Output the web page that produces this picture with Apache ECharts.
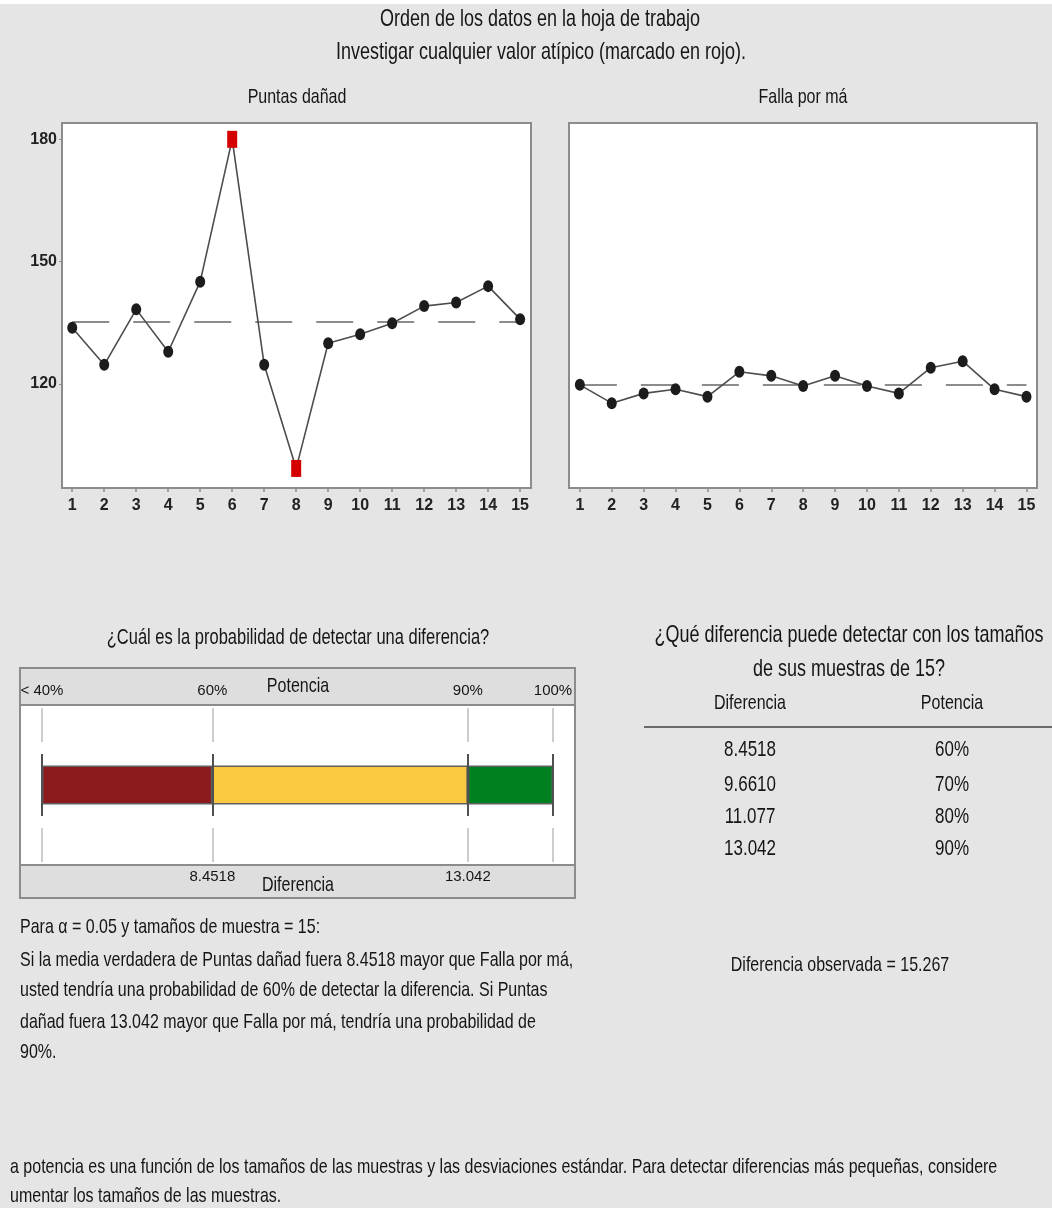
<!DOCTYPE html>
<html>
<head>
<meta charset="utf-8">
<title>Informe de potencia - Prueba t de 2 muestras</title>
<script src="https://cdn.jsdelivr.net/npm/echarts@6/dist/echarts.min.js"></script>
<style>
  html, body { margin: 0; padding: 0; background: #e5e5e5; }
  #chart { width: 1052px; height: 1208px; }
</style>
</head>
<body>
<div id="chart"></div>
<script>
// Observation order in the worksheet
const obsIndex = [1, 2, 3, 4, 5, 6, 7, 8, 9, 10, 11, 12, 13, 14, 15];
// Sample values
const puntasDanad = [133.8, 124.7, 138.3, 127.9, 145.1, 180.0, 124.7, 99.3, 130.0, 132.2, 134.9, 139.1, 140.0, 144.0, 135.9];
const fallaPorMa  = [119.8, 115.3, 117.7, 118.7, 116.9, 123.0, 122.0, 119.5, 122.0, 119.5, 117.7, 124.0, 125.6, 118.7, 116.9];
// Observations flagged as unusual (1-based order)
const puntasOutliers = [6, 8];
const fallaOutliers = [];
// Shared vertical scale ticks
const yTicks = [120, 150, 180];

// Power bar: boundaries (%) and their labels
const powerBreaks = [40, 60, 90, 100];
const powerLabels = ['< 40%', '60%', '90%', '100%'];
// Detectable differences for each power level
const diffValues = [8.4518, 9.6610, 11.077, 13.042];
const powerLevels = [60, 70, 80, 90];
const observedDiff = 15.267;
const alphaLevel = 0.05;
const sampleSize = 15;

const FONT = "'Liberation Sans', Arial, sans-serif";
const TXT = '#151515';
const STRETCH = 1.3;

const mean = arr => arr.reduce((a, b) => a + b, 0) / arr.length;
const fmtDiff = v => v.toPrecision(5);

function text(x, y, str, size, align, extra) {
  return Object.assign({
    type: 'text', x: x, y: y, scaleY: STRETCH, silent: true, z: 20,
    style: {
      text: str, x: 0, y: 0, fill: TXT,
      fontSize: size, fontFamily: FONT,
      align: align || 'center', verticalAlign: 'middle',
      textAlign: align || 'center', textVerticalAlign: 'middle'
    }
  }, extra || {});
}

function orderSeries(values, outliers, gridIdx) {
  const m = mean(values);
  return {
    type: 'line',
    xAxisIndex: gridIdx, yAxisIndex: gridIdx,
    data: values.map((v, i) => {
      const n = obsIndex[i];
      if (outliers.indexOf(n) >= 0) {
        return { value: [n, v], symbol: 'rect', symbolSize: [10, 17], itemStyle: { color: '#d40000' } };
      }
      return { value: [n, v] };
    }),
    symbol: 'circle',
    symbolSize: [10, 12],
    itemStyle: { color: '#1c1c1c' },
    lineStyle: { color: '#4d4d4d', width: 1.6 },
    z: 3,
    animation: false,
    markLine: {
      silent: true,
      symbol: 'none',
      label: { show: false },
      lineStyle: { color: '#8c8c8c', width: 2, type: [37, 24] },
      z: 2,
      data: [[{ coord: [obsIndex[0], m] }, { coord: [obsIndex[obsIndex.length - 1], m] }]]
    }
  };
}

function orderXAxis(gridIdx, min, max) {
  return {
    type: 'value', gridIndex: gridIdx, min: min, max: max,
    axisLine: { show: false },
    splitLine: { show: false },
    axisTick: { show: true, customValues: obsIndex, length: 4, lineStyle: { color: '#8c8c8c', width: 1.5 } },
    axisLabel: { customValues: obsIndex, fontSize: 16, fontFamily: FONT, color: '#222', margin: 10, fontWeight: 'bold' }
  };
}

function orderYAxis(gridIdx, showLabels) {
  return {
    type: 'value', gridIndex: gridIdx, min: 94.5, max: 184,
    axisLine: { show: false },
    splitLine: { show: false },
    axisTick: { show: showLabels, customValues: yTicks, length: 3, lineStyle: { color: '#8c8c8c' } },
    axisLabel: { show: showLabels, customValues: yTicks, fontSize: 16, fontFamily: FONT, color: '#222', margin: 5, fontWeight: 'bold' }
  };
}

// Power bar segments, stacked from an invisible base
const segColors = ['#8b1a1c', '#fbc93f', '#00801f'];
const powerSeries = [{
  type: 'bar', stack: 'pw', xAxisIndex: 2, yAxisIndex: 2, barWidth: 39,
  data: [powerBreaks[0]], itemStyle: { color: 'rgba(0,0,0,0)' }, silent: true, animation: false,
  markLine: {
    silent: true, symbol: 'none', label: { show: false },
    lineStyle: { color: '#bdbdbd', width: 1.5, type: [0, 3, 34, 86, 34, 3] },
    data: powerBreaks.map(v => ({ xAxis: v }))
  }
}];
for (let i = 1; i < powerBreaks.length; i++) {
  powerSeries.push({
    type: 'bar', stack: 'pw', xAxisIndex: 2, yAxisIndex: 2, barWidth: 39,
    data: [powerBreaks[i] - powerBreaks[i - 1]],
    itemStyle: { color: segColors[i - 1], borderColor: '#606060', borderWidth: 1.5 },
    silent: true, animation: false
  });
}
powerSeries.push({
  type: 'line', xAxisIndex: 2, yAxisIndex: 2, data: [], silent: true,
  markLine: {
    silent: true, symbol: 'none', label: { show: false },
    lineStyle: { color: '#505050', width: 2, type: [0, 49, 62, 49] },
    data: powerBreaks.map(v => ({ xAxis: v }))
  }
});

const pMin = 37.42, pMax = 102.58;

const graphics = [
  // top white strip
  { type: 'rect', shape: { x: 0, y: 0, width: 1052, height: 4 }, style: { fill: '#ffffff' }, z: -10, silent: true },
  // power panel frame
  { type: 'rect', shape: { x: 20, y: 668, width: 555, height: 230 }, style: { fill: '#ffffff', stroke: '#8c8c8c', lineWidth: 2 }, z: -10, silent: true },
  { type: 'rect', shape: { x: 20, y: 668, width: 555, height: 37 }, style: { fill: '#dedede', stroke: '#8c8c8c', lineWidth: 2 }, z: -9, silent: true },
  { type: 'rect', shape: { x: 20, y: 865, width: 555, height: 33 }, style: { fill: '#dedede', stroke: '#8c8c8c', lineWidth: 2 }, z: -9, silent: true },
  // table rule
  { type: 'line', shape: { x1: 644, y1: 727, x2: 1052, y2: 727 }, style: { stroke: '#6a6a6a', lineWidth: 2 }, z: 5, silent: true },

  text(540, 20, 'Orden de los datos en la hoja de trabajo', 18),
  text(541, 53, 'Investigar cualquier valor atípico (marcado en rojo).', 18),
  text(297, 97, 'Puntas dañad', 16),
  text(803, 97, 'Falla por má', 16),

  text(298, 638, '¿Cuál es la probabilidad de detectar una diferencia?', 16.5),
  text(298, 686, 'Potencia', 16),
  text(298, 885, 'Diferencia', 16),

  text(849, 636, '¿Qué diferencia puede detectar con los tamaños', 18),
  text(849, 670, 'de sus muestras de ' + sampleSize + '?', 18),
  text(750, 703, 'Diferencia', 16),
  text(952, 703, 'Potencia', 16),

  text(20, 927, 'Para α = ' + alphaLevel.toFixed(2) + ' y tamaños de muestra = ' + sampleSize + ':', 16, 'left'),
  text(20, 960, 'Si la media verdadera de Puntas dañad fuera ' + fmtDiff(diffValues[0]) + ' mayor que Falla por má,', 16, 'left'),
  text(20, 990, 'usted tendría una probabilidad de ' + powerLevels[0] + '% de detectar la diferencia. Si Puntas', 16, 'left'),
  text(20, 1022, 'dañad fuera ' + fmtDiff(diffValues[diffValues.length - 1]) + ' mayor que Falla por má, tendría una probabilidad de', 16, 'left'),
  text(20, 1052, powerLevels[powerLevels.length - 1] + '%.', 16, 'left'),

  text(840, 965, 'Diferencia observada = ' + observedDiff.toFixed(3), 16),

  text(10, 1167, 'a potencia es una función de los tamaños de las muestras y las desviaciones estándar. Para detectar diferencias más pequeñas, considere', 16, 'left'),
  text(10, 1196, 'umentar los tamaños de las muestras.', 16, 'left')
];

const rowY = [750, 785, 817, 849];
diffValues.forEach((d, i) => {
  graphics.push(text(750, rowY[i], fmtDiff(d), 17));
  graphics.push(text(952, rowY[i], powerLevels[i] + '%', 17));
});

const option = {
  backgroundColor: '#e5e5e5',
  animation: false,
  grid: [
    { left: 62, top: 123, width: 469, height: 365, show: true, backgroundColor: '#ffffff', borderColor: '#8c8c8c', borderWidth: 2 },
    { left: 569, top: 123, width: 468, height: 365, show: true, backgroundColor: '#ffffff', borderColor: '#8c8c8c', borderWidth: 2 },
    { left: 20, top: 705, width: 555, height: 160, show: false }
  ],
  xAxis: [
    orderXAxis(0, 0.68, 15.34),
    orderXAxis(1, 0.66, 15.33),
    {
      type: 'value', gridIndex: 2, position: 'top', min: pMin, max: pMax,
      axisLine: { show: false }, splitLine: { show: false }, axisTick: { show: false },
      axisLabel: {
        customValues: powerBreaks, margin: 7, fontSize: 15, fontFamily: FONT, color: TXT,
        formatter: v => powerLabels[powerBreaks.indexOf(v)]
      }
    },
    {
      type: 'value', gridIndex: 2, position: 'bottom', min: pMin, max: pMax,
      axisLine: { show: false }, splitLine: { show: false }, axisTick: { show: false },
      axisLabel: {
        customValues: [powerBreaks[1], powerBreaks[2]], margin: 4, fontSize: 15, fontFamily: FONT, color: TXT,
        formatter: v => v === powerBreaks[1] ? fmtDiff(diffValues[0]) : fmtDiff(diffValues[diffValues.length - 1])
      }
    }
  ],
  yAxis: [
    orderYAxis(0, true),
    orderYAxis(1, false),
    { type: 'category', gridIndex: 2, data: ['Potencia'], show: false }
  ],
  series: [
    orderSeries(puntasDanad, puntasOutliers, 0),
    orderSeries(fallaPorMa, fallaOutliers, 1)
  ].concat(powerSeries),
  graphic: graphics
};

const chart = echarts.init(document.getElementById('chart'), null, { renderer: 'canvas' });
chart.setOption(option);
</script>
</body>
</html>
